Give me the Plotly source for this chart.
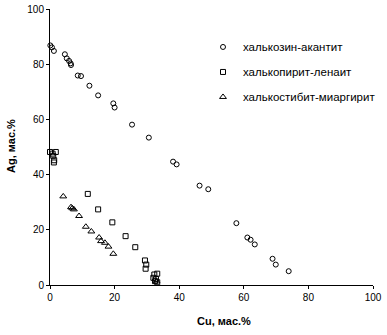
import plotly.graph_objects as go

# халькозин-акантит
cc_x = [0.1, 0.6, 1.2, 4.6, 5.2, 5.9, 6.4, 6.5, 8.6, 9.6, 12.2, 14.9, 19.6, 20.0, 25.4, 30.6,
        38.1, 39.2, 46.3, 49.0, 57.7, 61.1, 62.1, 63.4, 68.9, 69.9, 73.9]
cc_y = [86.8, 86.1, 84.8, 83.6, 82.1, 81.2, 80.3, 79.7, 75.9, 75.7, 72.2, 68.7, 65.8, 64.3, 58.1, 53.4,
        44.7, 43.7, 36.0, 34.7, 22.4, 17.2, 16.4, 14.7, 9.5, 7.4, 5.0]
# халькопирит-ленаит
cp_x = [0.0, 0.8, 1.8, 1.0, 1.3, 1.2, 11.7, 14.9, 19.3, 23.4, 26.4, 29.4, 29.8, 29.6,
        32.3, 33.2, 32.0, 32.8, 32.5, 33.2]
cp_y = [48.2, 47.6, 48.2, 46.8, 45.2, 44.4, 33.0, 27.4, 22.7, 17.7, 13.7, 8.9, 7.4, 5.9,
        3.8, 4.1, 2.6, 2.2, 1.4, 1.0]
# халькостибит-миаргирит
cs_x = [4.1, 6.5, 6.9, 7.4, 9.0, 11.1, 12.8, 15.2, 15.8, 17.0, 18.1, 19.6, 33.0]
cs_y = [32.1, 28.2, 27.8, 27.4, 25.0, 21.1, 19.4, 17.2, 15.9, 15.3, 13.9, 11.3, 1.3]

names = ["халькозин-акантит", "халькопирит-ленаит", "халькостибит-миаргирит"]
tick_vals = [0, 20, 40, 60, 80, 100]

FONT = "Liberation Sans, Arial, sans-serif"

fig = go.Figure()
series = [(cc_x, cc_y, "circle-open", 5), (cp_x, cp_y, "square-open", 5), (cs_x, cs_y, "triangle-up-open", 6)]
for i, ((xs, ys, sym, sz), nm) in enumerate(zip(series, names)):
    fig.add_trace(go.Scatter(
        x=xs, y=ys, mode="markers", name=nm, legendgroup=f"g{i}",
        marker=dict(symbol=sym, size=sz, color="black", line=dict(width=1, color="black")),
        cliponaxis=False,
    ))

axis_common = dict(
    range=[0, 100], tickvals=tick_vals, showgrid=False, zeroline=False,
    showline=True, linecolor="black", linewidth=1, automargin=False,
    ticks="outside", ticklen=3, tickcolor="black", tickwidth=1,
    tickfont=dict(family=FONT, size=10, color="black"),
)

L, R, T, B = 50, 14, 9, 50
W, H = 387, 335
pw, ph = W - L - R, H - T - B

fig.update_layout(
    width=W, height=H,
    margin=dict(l=L, r=R, t=T, b=B, pad=0, autoexpand=False),
    paper_bgcolor="white", plot_bgcolor="white",
    font=dict(family=FONT, size=10, color="black"),
    xaxis=dict(**axis_common),
    yaxis=dict(**axis_common),
    xaxis2=dict(range=[0, 100], tickvals=tick_vals, overlaying="x", anchor="y", side="bottom",
                showgrid=False, zeroline=False, showline=False, showticklabels=False, automargin=False,
                ticks="inside", ticklen=2, tickcolor="black"),
    yaxis2=dict(range=[0, 100], tickvals=tick_vals, overlaying="y", anchor="x", side="left",
                showgrid=False, zeroline=False, showline=False, showticklabels=False, automargin=False,
                ticks="inside", ticklen=2, tickcolor="black"),
    showlegend=True,
    legend=dict(x=(203 - L) / pw, y=0.915, xanchor="left", yanchor="top", bgcolor="rgba(0,0,0,0)",
                font=dict(family=FONT, size=11.5, color="black"), tracegroupgap=6,
                traceorder="grouped", itemwidth=30),
)
fig.add_annotation(text="<b>Cu, мас.%</b>", showarrow=False, xref="paper", yref="paper",
                   xanchor="center", yanchor="middle",
                   x=(224 - L) / pw, y=(H - B - 321) / ph, font=dict(family=FONT, size=11))
fig.add_annotation(text="<b>Ag, мас.%</b>", textangle=-90, showarrow=False, xref="paper", yref="paper",
                   xanchor="center", yanchor="middle",
                   x=(11 - L) / pw, y=(H - B - 146) / ph, font=dict(family=FONT, size=11))

fig.write_html("out.html")
